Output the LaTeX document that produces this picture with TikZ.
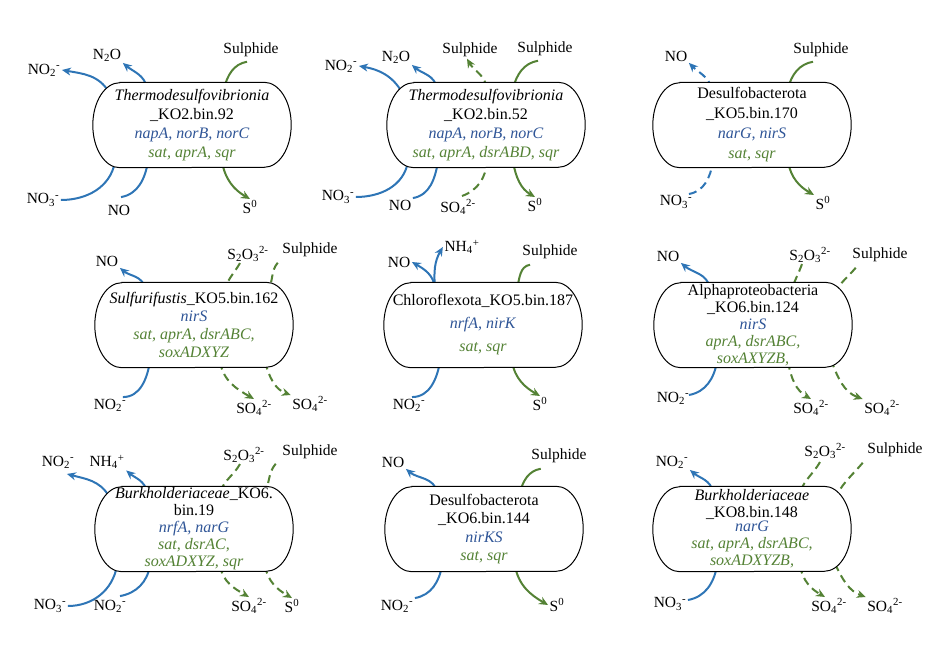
\documentclass[tikz,border=0pt]{standalone}
\usepackage{fontspec}
\setmainfont{Liberation Serif}
\usetikzlibrary{arrows.meta,calc,backgrounds}
\pgfdeclarelayer{cellbg}
\pgfsetlayers{background,cellbg,main}

\definecolor{nblue}{HTML}{2E75B6}
\definecolor{gblue}{HTML}{2F5597}
\definecolor{sgreen}{HTML}{548235}

\newcommand{\nitrite}{NO\textsubscript{2}\textsuperscript{-}}
\newcommand{\nitrate}{NO\textsubscript{3}\textsuperscript{-}}
\newcommand{\sulfate}{SO\textsubscript{4}\textsuperscript{2-}}
\newcommand{\thiosulf}{S\textsubscript{2}O\textsubscript{3}\textsuperscript{2-}}
\newcommand{\ammon}{NH\textsubscript{4}\textsuperscript{+}}
\newcommand{\szero}{S\textsuperscript{0}}
\newcommand{\nitgenes}[1]{\textcolor{gblue}{\textit{#1}}}
\newcommand{\sulgenes}[1]{\textcolor{sgreen}{\textit{#1}}}

\begin{document}
\begin{tikzpicture}[x=1pt,y=-1pt,
            cell/.style={minimum width=198pt, minimum height=85pt, align=center, inner sep=0pt,
                font=\fontsize{16}{19}\selectfont},
            stadium/.style={draw, line width=1pt, fill=white},
            lbl/.style={inner sep=1.5pt, font=\fontsize{15.5}{17}\selectfont},
            nitout/.style={nblue, line width=2pt, -{Stealth[length=9pt,width=8pt]}},
            nitin/.style={nblue, line width=2pt},
            sulout/.style={sgreen, line width=2pt, -{Stealth[length=9pt,width=8pt]}},
            sulin/.style={sgreen, line width=2pt},
            dsh/.style={dash pattern=on 8pt off 5pt}]
            \useasboundingbox (0,0) rectangle (949,652);

            \node[cell] (b1) at (192,125) {\textit{Thermodesulfovibrionia}\\\_KO2.bin.92\\\nitgenes{napA, norB, norC}\\\sulgenes{sat, aprA, sqr}};
            \node[cell] (b2) at (486,125) {\textit{Thermodesulfovibrionia}\\\_KO2.bin.52\\\nitgenes{napA, norB, norC}\\\sulgenes{sat, aprA, dsrABD, sqr}};
            \node[cell, font=\fontsize{16}{20}\selectfont] (b3) at (752,125) {Desulfobacterota\\\_KO5.bin.170\\\nitgenes{narG, nirS}\\\sulgenes{sat, sqr}};
            \node[cell, font=\fontsize{16}{18}\selectfont] (b4) at (194,325) {\textit{Sulfurifustis}\_KO5.bin.162\\\nitgenes{nirS}\\\sulgenes{sat, aprA, dsrABC,}\\\sulgenes{soxADXYZ}};
            \node[cell, font=\fontsize{16}{23}\selectfont] (b5) at (483,325) {Chloroflexota\_KO5.bin.187\\\nitgenes{nrfA, nirK}\\\sulgenes{sat, sqr}};
            \node[cell, font=\fontsize{16}{17}\selectfont] (b6) at (753,325) {Alphaproteobacteria\\\_KO6.bin.124\\\nitgenes{nirS}\\\sulgenes{aprA, dsrABC,}\\\sulgenes{soxAXYZB,}};
            \node[cell, font=\fontsize{16}{17}\selectfont] (b7) at (194,529) {\textit{Burkholderiaceae}\_KO6.\\bin.19\\\nitgenes{nrfA, narG}\\\sulgenes{sat, dsrAC,}\\\sulgenes{soxADXYZ, sqr}};
            \node[cell, font=\fontsize{16}{18.5}\selectfont] (b8) at (484,529) {Desulfobacterota\\\_KO6.bin.144\\\nitgenes{nirKS}\\\sulgenes{sat, sqr}};
            \node[cell, font=\fontsize{16}{17}\selectfont] (b9) at (752,529) {\textit{Burkholderiaceae}\\\_KO8.bin.148\\[-3pt]\nitgenes{narG}\\\sulgenes{sat, aprA, dsrABC,}\\\sulgenes{soxADXYZB,}};

            \begin{pgfonlayer}{cellbg}
            \foreach \k in {1,...,9} {
                \draw[stadium] ($(b\k.north west)+(27,0)$) -- ($(b\k.north east)+(-27,0)$)
                    arc[start angle=90, end angle=-90, x radius=27pt, y radius=42.5pt]
                    -- ($(b\k.south west)+(27,0)$)
                    arc[start angle=270, end angle=90, x radius=27pt, y radius=42.5pt] -- cycle;
            }
            \end{pgfonlayer}

            \node[lbl] (b1no2) at (44,70) {\nitrite};
            \node[lbl] (b1n2o) at (107,55) {N\textsubscript{2}O};
            \node[lbl] (b1hs) at (251,50) {Sulphide};
            \node[lbl] (b1no3) at (43,200) {\nitrate};
            \node[lbl] (b1no) at (119,210) {NO};
            \node[lbl] (b1s0) at (250,207) {\szero};

            \node[lbl] (b2no2) at (341,66) {\nitrite};
            \node[lbl] (b2n2o) at (396,57) {N\textsubscript{2}O};
            \node[lbl] (b2hsa) at (470,50) {Sulphide};
            \node[lbl] (b2hsb) at (545,49) {Sulphide};
            \node[lbl] (b2no3) at (338,197) {\nitrate};
            \node[lbl] (b2no) at (400,205) {NO};
            \node[lbl] (b2so4) at (458,207) {\sulfate};
            \node[lbl] (b2s0) at (535,205) {\szero};

            \node[lbl] (b3no) at (676,56) {NO};
            \node[lbl] (b3hs) at (821,50) {Sulphide};
            \node[lbl] (b3no3) at (676,202) {\nitrate};
            \node[lbl] (b3s0) at (823,203) {\szero};

            \node[lbl] (b4no) at (107,261) {NO};
            \node[lbl] (b4thio) at (248,254) {\thiosulf};
            \node[lbl] (b4hs) at (310,250) {Sulphide};
            \node[lbl] (b4no2) at (110,405) {\nitrite};
            \node[lbl] (b4so4a) at (254,408) {\sulfate};
            \node[lbl] (b4so4b) at (310,404) {\sulfate};

            \node[lbl] (b5no) at (399,262) {NO};
            \node[lbl] (b5nh4) at (462,247) {\ammon};
            \node[lbl] (b5hs) at (550,252) {Sulphide};
            \node[lbl] (b5no2) at (409,405) {\nitrite};
            \node[lbl] (b5s0) at (540,404) {\szero};

            \node[lbl] (b6no) at (668,256) {NO};
            \node[lbl] (b6thio) at (810,255) {\thiosulf};
            \node[lbl] (b6hs) at (880,255) {Sulphide};
            \node[lbl] (b6no2) at (673,398) {\nitrite};
            \node[lbl] (b6so4a) at (811,408) {\sulfate};
            \node[lbl] (b6so4b) at (882,408) {\sulfate};

            \node[lbl] (b7no2) at (58,462) {\nitrite};
            \node[lbl] (b7nh4) at (107,462) {\ammon};
            \node[lbl] (b7thio) at (244,455) {\thiosulf};
            \node[lbl] (b7hs) at (310,452) {Sulphide};
            \node[lbl] (b7no3) at (50,606) {\nitrate};
            \node[lbl] (b7no2b) at (110,606) {\nitrite};
            \node[lbl] (b7so4) at (249,606) {\sulfate};
            \node[lbl] (b7s0) at (292,606) {\szero};

            \node[lbl] (b8no) at (393,462) {NO};
            \node[lbl] (b8hs) at (559,456) {Sulphide};
            \node[lbl] (b8no2) at (397,606) {\nitrite};
            \node[lbl] (b8s0) at (557,605) {\szero};

            \node[lbl] (b9no2) at (672,462) {\nitrite};
            \node[lbl] (b9thio) at (825,451) {\thiosulf};
            \node[lbl] (b9hs) at (895,450) {Sulphide};
            \node[lbl] (b9no3) at (670,604) {\nitrate};
            \node[lbl] (b9so4a) at (829,606) {\sulfate};
            \node[lbl] (b9so4b) at (885,606) {\sulfate};

            \begin{pgfonlayer}{background}
            \draw[nitout] ($(b1.north)+(-83,10)$) to[out=120,in=-10] (b1no2.east);
            \draw[nitout] ($(b1.north)+(-45,6)$) to[out=100,in=-40] (b1n2o.south east);
            \draw[sulin] ($(b1hs.south)+(-4,3)$) to[out=190,in=75] ($(b1.north)+(32,6)$);
            \draw[nitin] (b1no3.east) to[out=0,in=-100] ($(b1.south)+(-77,-6)$);
            \draw[nitin] ($(b1no.north)+(2,-6)$) to[out=10,in=-100] ($(b1.south)+(-44,-6)$);
            \draw[sulout] ($(b1.south)+(30,-6)$) to[out=-80,in=150] (b1s0.north);

            \draw[nitout] ($(b2.north)+(-84,10)$) to[out=120,in=-10] (b2no2.east);
            \draw[nitout] ($(b2.north)+(-49,6)$) to[out=100,in=-40] (b2n2o.south east);
            \draw[sulout,dsh] ($(b2.north)+(1,6)$) to[out=100,in=-60] ($(b2hsa.south)+(-3,0)$);
            \draw[sulin] ($(b2hsb.south)+(-7,3)$) to[out=190,in=75] ($(b2.north)+(27,6)$);
            \draw[nitin] (b2no3.east) to[out=0,in=-100] ($(b2.south)+(-78,-6)$);
            \draw[nitin] (b2no.north east) to[out=10,in=-100] ($(b2.south)+(-48,-6)$);
            \draw[sulin,dsh] ($(b2so4.north)+(4,-2)$) to[out=20,in=-95] ($(b2.south)+(1,-6)$);
            \draw[sulout] ($(b2.south)+(27,-6)$) to[out=-80,in=150] (b2s0.north);

            \draw[nitout,dsh] ($(b3.north)+(-40,6)$) to[out=110,in=-45] (b3no.south east);
            \draw[sulin] ($(b3hs.south)+(-8,3)$) to[out=190,in=75] ($(b3.north)+(36,6)$);
            \draw[nitin,dsh] ($(b3no3.north east)+(-5,0)$) to[out=10,in=-100] ($(b3.south)+(-39,-6)$);
            \draw[sulout] ($(b3.south)+(36,-6)$) to[out=-80,in=150] (b3s0.north west);

            \draw[nitout] ($(b4.north)+(-49,6)$) to[out=100,in=-40] (b4no.south east);
            \draw[sulin,dsh] ($(b4thio.south)+(-8,0)$) to[out=-120,in=70] ($(b4.north)+(31,6)$);
            \draw[sulin,dsh] ($(b4hs.south west)+(-3,4)$) to[out=-130,in=60] ($(b4.north)+(74,8)$);
            \draw[nitin] ($(b4no2.north east)+(-5,0)$) to[out=0,in=-100] ($(b4.south)+(-44,-6)$);
            \draw[sulout,dsh] ($(b4.south)+(26,-6)$) to[out=-80,in=150] (b4so4a.north);
            \draw[sulout,dsh] ($(b4.south)+(71,-6)$) to[out=-75,in=160] (b4so4b.north west);

            \draw[nitout] ($(b5.north)+(-48,6)$) to[out=95,in=-30] (b5no.east);
            \draw[nitout] ($(b5.north)+(-48,6)$) to[out=95,in=-120] (b5nh4.west);
            \draw[sulin] ($(b5hs.south)+(-20,4)$) to[out=190,in=75] ($(b5.north)+(34,6)$);
            \draw[nitin] ($(b5no2.north)+(3,0)$) to[out=0,in=-100] ($(b5.south)+(-43,-6)$);
            \draw[sulout] ($(b5.south)+(29,-6)$) to[out=-80,in=150] (b5s0.north);

            \draw[nitout] ($(b6.north)+(-43,6)$) to[out=100,in=-40] (b6no.south east);
            \draw[sulin,dsh] ($(b6thio.south)+(-8,0)$) to[out=-110,in=70] ($(b6.north)+(39,6)$);
            \draw[sulin,dsh] ($(b6hs.south west)+(5,4)$) to[out=-130,in=60] ($(b6.north)+(82,10)$);
            \draw[nitin] ($(b6no2.east)+(-2,-3)$) to[out=10,in=-100] ($(b6.south)+(-36,-6)$);
            \draw[sulout,dsh] ($(b6.south)+(35,-6)$) to[out=-80,in=150] (b6so4a.north);
            \draw[sulout,dsh] ($(b6.south)+(78,-8)$) to[out=-70,in=160] (b6so4b.north west);

            \draw[nitout] ($(b7.north)+(-85,10)$) to[out=120,in=-15] ($(b7no2.south east)+(-9,4)$);
            \draw[nitout] ($(b7.north)+(-47,6)$) to[out=100,in=-40] (b7nh4.south east);
            \draw[sulin,dsh] ($(b7thio.south)+(-4,0)$) to[out=-120,in=70] ($(b7.north)+(26,6)$);
            \draw[sulin,dsh] ($(b7hs.south west)+(-5,3)$) to[out=-130,in=65] ($(b7.north)+(71,6)$);
            \draw[nitin] (b7no3.east) to[out=0,in=-100] ($(b7.south)+(-77,-6)$);
            \draw[nitin] ($(b7no2b.north)+(10,-2)$) to[out=10,in=-100] ($(b7.south)+(-44,-6)$);
            \draw[sulout,dsh] ($(b7.south)+(26,-6)$) to[out=-80,in=150] (b7so4.north);
            \draw[sulout,dsh] ($(b7.south)+(71,-6)$) to[out=-80,in=150] (b7s0.north);

            \draw[nitout] ($(b8.north)+(-47,6)$) to[out=100,in=-40] (b8no.south east);
            \draw[sulin] ($(b8hs.south west)+(11,4)$) to[out=190,in=75] ($(b8.north)+(36,6)$);
            \draw[nitin] (b8no2.north east) to[out=10,in=-100] ($(b8.south)+(-42,-6)$);
            \draw[sulout] ($(b8.south)+(31,-6)$) to[out=-80,in=150] (b8s0.west);

            \draw[nitout] ($(b9.north)+(-39,6)$) to[out=100,in=-40] (b9no2.south east);
            \draw[sulin,dsh] ($(b9thio.south)+(-5,2)$) to[out=-120,in=70] ($(b9.north)+(48,6)$);
            \draw[sulin,dsh] ($(b9hs.south west)+(-3,4)$) to[out=-130,in=60] ($(b9.north)+(85,8)$);
            \draw[nitin] ($(b9no3.east)+(0,-4)$) to[out=10,in=-100] ($(b9.south)+(-35,-6)$);
            \draw[sulout,dsh] ($(b9.south)+(48,-6)$) to[out=-80,in=150] ($(b9so4a.north)+(-4,0)$);
            \draw[sulout,dsh] ($(b9.south)+(83,-8)$) to[out=-65,in=160] (b9so4b.north west);
            \end{pgfonlayer}
        \end{tikzpicture}
\end{document}
